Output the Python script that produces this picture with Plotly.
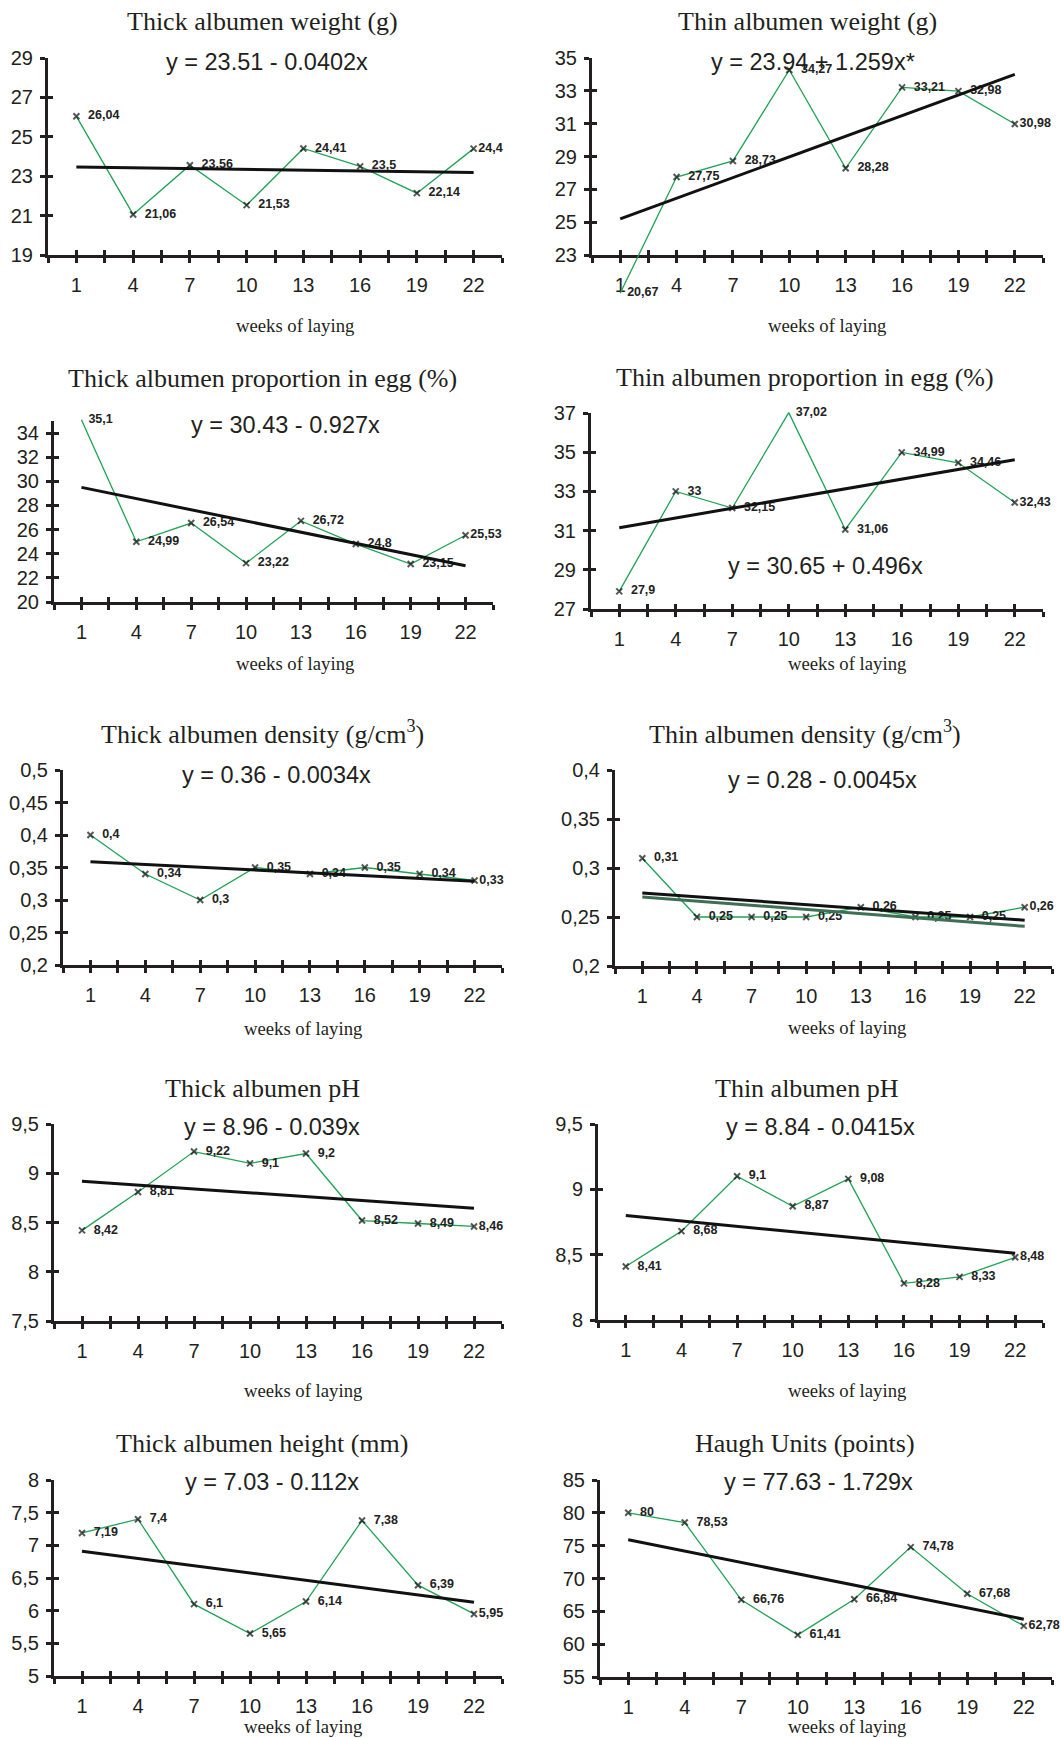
import plotly.graph_objects as go

W, H = 1061, 1738

weeks = [1, 4, 7, 10, 13, 16, 19, 22]

titles = [
    "Thick albumen weight (g)",
    "Thin albumen weight (g)",
    "Thick albumen proportion in egg (%)",
    "Thin albumen proportion in egg (%)",
    "Thick albumen density (g/cm<sup>3</sup>)",
    "Thin albumen density (g/cm<sup>3</sup>)",
    "Thick albumen pH",
    "Thin albumen pH",
    "Thick albumen height (mm)",
    "Haugh Units (points)",
]
equations = [
    "y = 23.51 - 0.0402x",
    "y = 23.94 + 1.259x*",
    "y = 30.43 - 0.927x",
    "y = 30.65 + 0.496x",
    "y = 0.36 - 0.0034x",
    "y = 0.28 - 0.0045x",
    "y = 8.96 - 0.039x",
    "y = 8.84 - 0.0415x",
    "y = 7.03 - 0.112x",
    "y = 77.63 - 1.729x",
]

thick_weight = [26.04, 21.06, 23.56, 21.53, 24.41, 23.5, 22.14, 24.4]
thin_weight = [20.67, 27.75, 28.73, 34.27, 28.28, 33.21, 32.98, 30.98]
thick_prop = [35.1, 24.99, 26.54, 23.22, 26.72, 24.8, 23.15, 25.53]
thin_prop = [27.9, 33, 32.15, 37.02, 31.06, 34.99, 34.46, 32.43]
thick_density = [0.4, 0.34, 0.3, 0.35, 0.34, 0.35, 0.34, 0.33]
thin_density = [0.31, 0.25, 0.25, 0.25, 0.26, 0.25, 0.25, 0.26]
thick_ph = [8.42, 8.81, 9.22, 9.1, 9.2, 8.52, 8.49, 8.46]
thin_ph = [8.41, 8.68, 9.1, 8.87, 9.08, 8.28, 8.33, 8.48]
thick_height = [7.19, 7.4, 6.1, 5.65, 6.14, 7.38, 6.39, 5.95]
haugh = [80, 78.53, 66.76, 61.41, 66.84, 74.78, 67.68, 62.78]

series = [thick_weight, thin_weight, thick_prop, thin_prop, thick_density,
          thin_density, thick_ph, thin_ph, thick_height, haugh]

# trend line values read at week 1 and week 22
trend_start = [23.47, 25.2, 29.5, 31.15, 0.359, 0.2746, 8.92, 8.80, 6.91, 75.9]
trend_end = [23.19, 34.0, 23.0, 34.62, 0.329, 0.2467, 8.645, 8.51, 6.13, 63.8]
# second (green) trend line in thin albumen density panel
trend2_start = [None, None, None, None, None, 0.2705, None, None, None, None]
trend2_end = [None, None, None, None, None, 0.2405, None, None, None, None]

y_ticks = [
    [19, 21, 23, 25, 27, 29],
    [23, 25, 27, 29, 31, 33, 35],
    [20, 22, 24, 26, 28, 30, 32, 34],
    [27, 29, 31, 33, 35, 37],
    [0.2, 0.25, 0.3, 0.35, 0.4, 0.45, 0.5],
    [0.2, 0.25, 0.3, 0.35, 0.4],
    [7.5, 8, 8.5, 9, 9.5],
    [8, 8.5, 9, 9.5],
    [5, 5.5, 6, 6.5, 7, 7.5, 8],
    [55, 60, 65, 70, 75, 80, 85],
]
y_ranges = [(19, 29), (23, 35), (20, 35), (27, 37), (0.2, 0.5), (0.2, 0.4),
            (7.5, 9.5), (8, 9.5), (5, 8), (55, 85)]
x_range = (-0.5, 23.5)
x_tick_step = 1.5

# layout geometry in pixels: y-axis x position, x-axis right end, top, bottom
boxes = [
    (48, 502, 58, 255), (592, 1043, 58, 255),
    (54, 493, 421, 602), (591, 1043, 413, 609),
    (63, 502, 770, 965), (615, 1052, 770, 966),
    (54, 502, 1124, 1321), (598, 1043, 1124, 1320),
    (54, 502, 1480, 1676), (600, 1052, 1480, 1677),
]
title_pos = [(262, 22), (807, 22), (262, 378), (805, 377), (262, 732),
             (805, 732), (262, 1088), (807, 1088), (262, 1443), (805, 1443)]
eq_pos = [(267, 62), (813, 62), (285, 425), (825, 566), (276, 775),
          (822, 780), (272, 1127), (820, 1127), (272, 1482), (818, 1482)]
xl_pos = [(295, 325), (827, 325), (295, 663), (847, 663), (303, 1028),
          (847, 1027), (303, 1390), (847, 1390), (303, 1726), (847, 1726)]

AX = "#231f20"
GREEN = "#1fa356"
DKGREEN = "#3d6f55"


def fmt(v):
    return f"{v:g}".replace(".", ",")


def px_x(p):
    return p / W


def px_y(p):
    return 1 - p / H


def akey(letter, n):
    return f"{letter}axis" if n == 1 else f"{letter}axis{n}"


def aref(letter, n):
    return letter if n == 1 else f"{letter}{n}"


fig = go.Figure()
layout = {}
annotations = []

n_xt = int(round((x_range[1] - x_range[0]) / x_tick_step)) + 1
x_tickvals = [x_range[0] + k * x_tick_step for k in range(n_xt)]
x_ticktext = [str(int(v)) if (float(v).is_integer() and int(v) in weeks) else "" for v in x_tickvals]

for i in range(10):
    xl, xr, yt, yb = boxes[i]
    y0, y1 = y_ranges[i]
    xd, xo = 2 * i + 1, 2 * i + 2
    yd, yo, ydat = 3 * i + 1, 3 * i + 2, 3 * i + 3
    XD, XO = aref("x", xd), aref("x", xo)
    YD, YO, YDAT = aref("y", yd), aref("y", yo), aref("y", ydat)
    xdom = [px_x(xl), px_x(xr)]
    ydom = [px_y(yb), px_y(yt)]
    tick_font = dict(family="Liberation Sans, Arial", size=20, color=AX)

    layout[akey("x", xd)] = dict(
        domain=xdom, anchor=YD, range=list(x_range), showgrid=False,
        zeroline=False, showline=True, linecolor=AX, linewidth=3,
        tickmode="array", tickvals=x_tickvals, ticktext=x_ticktext,
        ticks="outside", ticklen=5, tickwidth=2.5, tickcolor=AX,
        tickfont=tick_font, ticklabelstandoff=5, fixedrange=True,
        automargin=False,
    )
    layout[akey("x", xo)] = dict(
        overlaying=XD, anchor=YD, range=list(x_range), showgrid=False,
        zeroline=False, showline=False, tickmode="array", tickvals=x_tickvals,
        ticks="inside", ticklen=5, tickwidth=2.5, tickcolor=AX,
        showticklabels=False, fixedrange=True, automargin=False,
    )
    layout[akey("y", yd)] = dict(
        domain=ydom, anchor=XD, range=[y0, y1], showgrid=False,
        zeroline=False, showline=True, linecolor=AX, linewidth=3,
        tickmode="array", tickvals=y_ticks[i], ticktext=[fmt(v) for v in y_ticks[i]],
        ticks="outside", ticklen=5, tickwidth=2.5, tickcolor=AX,
        tickfont=tick_font, ticklabelstandoff=3, fixedrange=True,
        automargin=False,
    )
    layout[akey("y", yo)] = dict(
        overlaying=YD, anchor=XD, range=[y0, y1], showgrid=False,
        zeroline=False, showline=False, tickmode="array", tickvals=y_ticks[i],
        ticks="inside", ticklen=5, tickwidth=2.5, tickcolor=AX,
        showticklabels=False, fixedrange=True, automargin=False,
    )
    # invisible data axis, same scale but extended so marks are not clipped
    ext_b, ext_t = 45, 18
    upp = (y1 - y0) / (yb - yt)
    layout[akey("y", ydat)] = dict(
        domain=[px_y(yb + ext_b), px_y(yt - ext_t)], anchor=XD,
        range=[y0 - ext_b * upp, y1 + ext_t * upp], visible=False,
        fixedrange=True, automargin=False,
    )

    # empty helper traces so that every axis pair is registered as a subplot
    for xa, ya in ((XD, YD), (XO, YD), (XD, YO)):
        fig.add_trace(go.Scatter(
            x=[None], y=[None], xaxis=xa, yaxis=ya, mode="markers",
            showlegend=False, hoverinfo="skip",
        ))

    vals = series[i]
    labels = [("  " if k < len(vals) - 1 else "") + fmt(v) for k, v in enumerate(vals)]
    # markers outside the axis range are not shown (as in the original)
    msizes = [6 if y0 <= v <= y1 else 0 for v in vals]
    fig.add_trace(go.Scatter(
        x=weeks, y=vals, xaxis=XD, yaxis=YDAT,
        mode="lines+markers+text",
        line=dict(color=GREEN, width=1.3),
        marker=dict(symbol="x-thin", size=msizes, line=dict(width=2, color="#111")),
        text=labels, textposition="middle right",
        textfont=dict(family="Liberation Sans, Arial", size=12.5, color="#222", weight="bold"),
        cliponaxis=False, showlegend=False, hoverinfo="skip",
    ))
    if trend2_start[i] is not None:
        fig.add_trace(go.Scatter(
            x=[weeks[0], weeks[-1]], y=[trend2_start[i], trend2_end[i]],
            xaxis=XD, yaxis=YDAT, mode="lines",
            line=dict(color=DKGREEN, width=3), showlegend=False, hoverinfo="skip",
        ))
    fig.add_trace(go.Scatter(
        x=[weeks[0], weeks[-1]], y=[trend_start[i], trend_end[i]],
        xaxis=XD, yaxis=YDAT, mode="lines",
        line=dict(color="#111", width=3), showlegend=False, hoverinfo="skip",
    ))

    tx, ty = title_pos[i]
    annotations.append(dict(
        text=titles[i], x=px_x(tx), y=px_y(ty), xref="paper", yref="paper",
        xanchor="center", yanchor="middle", showarrow=False,
        font=dict(family="Liberation Serif, Times New Roman", size=26, color=AX),
    ))
    ex, ey = eq_pos[i]
    annotations.append(dict(
        text=equations[i], x=px_x(ex), y=px_y(ey), xref="paper", yref="paper",
        xanchor="center", yanchor="middle", showarrow=False,
        font=dict(family="Liberation Sans, Arial", size=23.5, color=AX),
    ))
    lx, ly = xl_pos[i]
    annotations.append(dict(
        text="weeks of laying", x=px_x(lx), y=px_y(ly), xref="paper", yref="paper",
        xanchor="center", yanchor="middle", showarrow=False,
        font=dict(family="Liberation Serif, Times New Roman", size=18.7, color=AX),
    ))

fig.update_layout(
    width=W, height=H,
    margin=dict(l=0, r=0, t=0, b=0, pad=0, autoexpand=False),
    paper_bgcolor="white", plot_bgcolor="rgba(0,0,0,0)",
    showlegend=False, annotations=annotations, **layout,
)

fig.write_html(
    "out.html",
    config={"displayModeBar": False},
    post_script="document.body.style.margin='0';document.body.style.overflow='hidden';",
)
